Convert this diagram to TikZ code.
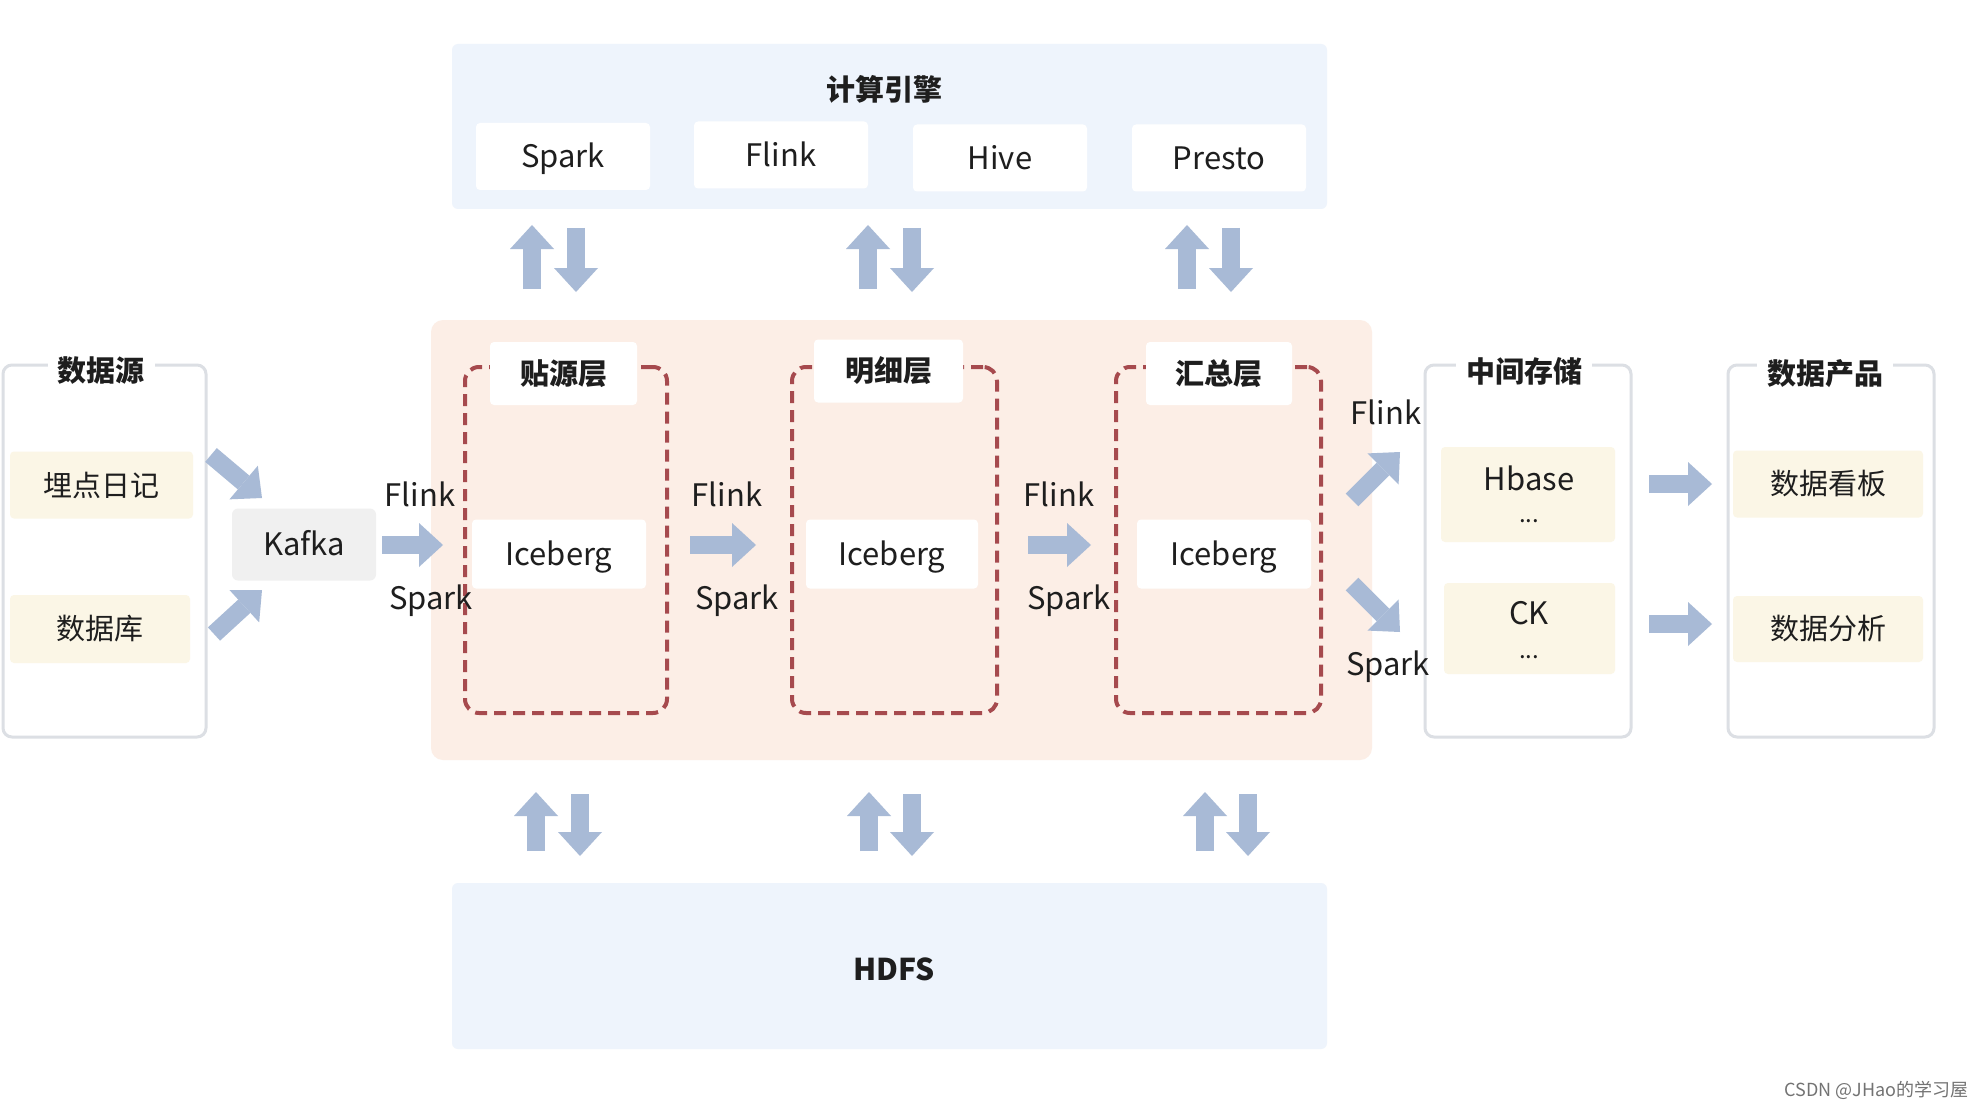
\documentclass[tikz,border=0pt]{standalone}
\usepackage{fontspec}
\setmainfont{Noto Sans CJK SC}
\usetikzlibrary{arrows.meta}
\definecolor{panelblue}{HTML}{EEF4FC}
\definecolor{peach}{HTML}{FCEEE6}
\definecolor{cream}{HTML}{FBF6E6}
\definecolor{kafkagray}{HTML}{F0F0F0}
\definecolor{arrowc}{HTML}{A8BAD6}
\definecolor{dashred}{HTML}{A64A4E}
\definecolor{panelline}{HTML}{DCDFE4}
\definecolor{txtc}{HTML}{1E1E1E}
\tikzset{
  blk/.style={inner sep=0pt, outer sep=0pt},
  panel/.style={blk, fill=panelblue, rounded corners=6pt},
  peachpanel/.style={blk, fill=peach, rounded corners=12pt},
  sidepanel/.style={blk, draw=panelline, line width=3pt, rounded corners=9pt},
  dashbox/.style={blk, draw=dashred, line width=4pt, dash pattern=on 12pt off 7pt, rounded corners=14pt},
  wbox/.style={blk, fill=white, rounded corners=4pt},
  cbox/.style={blk, fill=cream, rounded corners=4pt},
  gbox/.style={blk, fill=kafkagray, rounded corners=6pt},
  ttl/.style={font=\bfseries\fontsize{29}{33}\selectfont, text=txtc},
  cn/.style={font=\fontsize{29}{33}\selectfont, text=txtc},
  lat/.style={font=\fontsize{31}{35}\selectfont, text=txtc, text height=22.5pt, text depth=0pt},
  dots/.style={font=\fontsize{24}{28}\selectfont, text=txtc, anchor=base},
  barrow/.style={draw=arrowc, line width=18pt, -{Triangle[width=44pt,length=24pt,line width=0pt]}},
}
\begin{document}
\begin{tikzpicture}[x=1pt,y=-1pt]
\useasboundingbox[fill=white] (0,0) rectangle (1986,1110);

% ---------- compute engine panel ----------
\node[panel, minimum width=875pt, minimum height=165pt] (engine) at (889.5,126.5) {};
\node[ttl] (enginetitle) at (884,89) {计算引擎};
\node[wbox, minimum width=174pt, minimum height=67pt, lat] (spark) at (563,156.5) {Spark};
\node[wbox, minimum width=174pt, minimum height=67pt, lat] (flink) at (781,155) {Flink};
\node[wbox, minimum width=174pt, minimum height=67pt, lat] (hive) at (1000,158) {Hive};
\node[wbox, minimum width=174pt, minimum height=67pt, lat] (presto) at (1219,158) {Presto};

% ---------- HDFS panel ----------
\node[panel, minimum width=875pt, minimum height=166pt] (hdfs) at (889.5,966) {};
\node[ttl, font=\bfseries\fontsize{30}{34}\selectfont] (hdfstitle) at (894,969) {HDFS};

% ---------- warehouse panel ----------
\node[peachpanel, minimum width=941pt, minimum height=440pt] (wh) at (901.5,540) {};

\node[dashbox, minimum width=202pt, minimum height=346pt] (ods) at (566,540) {};
\node[dashbox, minimum width=205pt, minimum height=346pt] (dwd) at (894.5,540) {};
\node[dashbox, minimum width=205pt, minimum height=346pt] (dws) at (1218.5,540) {};

\node[wbox, minimum width=147pt, minimum height=63pt, ttl] (odst) at (563.5,373.5) {贴源层};
\node[wbox, minimum width=149pt, minimum height=63pt, ttl] (dwdt) at (888.5,371) {明细层};
\node[wbox, minimum width=146pt, minimum height=63pt, ttl] (dwst) at (1219,373.5) {汇总层};

\node[wbox, minimum width=174pt, minimum height=69pt, lat] (ice1) at (559,554) {Iceberg};
\node[wbox, minimum width=172pt, minimum height=69pt, lat] (ice2) at (892,554) {Iceberg};
\node[wbox, minimum width=174pt, minimum height=69pt, lat] (ice3) at (1224,554) {Iceberg};

% ---------- data source ----------
\node[sidepanel, minimum width=203pt, minimum height=372pt] (src) at (104.5,551) {};
\node[fill=white, inner xsep=10pt, inner ysep=2pt, ttl] (srct) at (101,371) {数据源};
\node[cbox, minimum width=183pt, minimum height=67pt, cn] (log) at (101.5,485) {埋点日记};
\node[cbox, minimum width=180pt, minimum height=68pt, cn] (db) at (100,629) {数据库};
\node[gbox, minimum width=144pt, minimum height=72pt, lat] (kafka) at (304,544.5) {Kafka};

% ---------- intermediate storage ----------
\node[sidepanel, minimum width=206pt, minimum height=372pt] (mid) at (1528,551) {};
\node[fill=white, inner xsep=10pt, inner ysep=2pt, ttl] (midt) at (1524,371) {中间存储};
\node[cbox, minimum width=174pt, minimum height=95pt] (hbase) at (1528,494.5) {};
\node[lat] (hbaset) at (1529,479) {Hbase};
\node[dots] (hbased) at (1529,522) {...};
\node[cbox, minimum width=171pt, minimum height=91pt] (ck) at (1529.5,628.5) {};
\node[lat] (ckt) at (1529,613) {CK};
\node[dots] (ckd) at (1529,658) {...};

% ---------- data products ----------
\node[sidepanel, minimum width=206pt, minimum height=372pt] (prod) at (1831,551) {};
\node[fill=white, inner xsep=10pt, inner ysep=2pt, ttl] (prodt) at (1825,374) {数据产品};
\node[cbox, minimum width=190pt, minimum height=67pt, cn] (board) at (1828,484) {数据看板};
\node[cbox, minimum width=190pt, minimum height=66pt, cn] (ana) at (1828,629) {数据分析};

% ---------- arrow end points ----------
\coordinate (s1) at (211,455);  \coordinate (e1) at (262,498);
\coordinate (s2) at (214,634);  \coordinate (e2) at (262,590);
\coordinate (h1s) at (382,545); \coordinate (h1e) at (443,545);
\coordinate (h2s) at (690,545); \coordinate (h2e) at (756,545);
\coordinate (h3s) at (1028,545); \coordinate (h3e) at (1091,545);
\coordinate (d1s) at (1352,500); \coordinate (d1e) at (1400,452);
\coordinate (d2s) at (1352,584); \coordinate (d2e) at (1400,632);
\coordinate (r1s) at (1649,484); \coordinate (r1e) at (1712,484);
\coordinate (r2s) at (1649,624); \coordinate (r2e) at (1712,624);

\draw[barrow] (s1) -- (e1);
\draw[barrow] (s2) -- (e2);
\draw[barrow] (h1s) -- (h1e);
\draw[barrow] (h2s) -- (h2e);
\draw[barrow] (h3s) -- (h3e);
\draw[barrow] (d1s) -- (d1e);
\draw[barrow] (d2s) -- (d2e);
\draw[barrow] (r1s) -- (r1e);
\draw[barrow] (r2s) -- (r2e);

% vertical pairs (engine <-> warehouse)
\foreach \u/\d [count=\i] in {532/576, 868/912, 1187/1231}{
  \coordinate (tu\i s) at (\u,289); \coordinate (tu\i e) at (\u,225);
  \coordinate (td\i s) at (\d,228); \coordinate (td\i e) at (\d,292);
  \draw[barrow] (tu\i s) -- (tu\i e);
  \draw[barrow] (td\i s) -- (td\i e);
}
% vertical pairs (warehouse <-> HDFS)
\foreach \u/\d [count=\i] in {536/580, 869/912, 1205/1248}{
  \coordinate (bu\i s) at (\u,851); \coordinate (bu\i e) at (\u,792);
  \coordinate (bd\i s) at (\d,794); \coordinate (bd\i e) at (\d,856);
  \draw[barrow] (bu\i s) -- (bu\i e);
  \draw[barrow] (bd\i s) -- (bd\i e);
}

% ---------- arrow labels ----------
\node[lat] (l1f) at (420,495) {Flink};
\node[lat] (l1s) at (431,598) {Spark};
\node[lat] (l2f) at (727,495) {Flink};
\node[lat] (l2s) at (737,598) {Spark};
\node[lat] (l3f) at (1059,495) {Flink};
\node[lat] (l3s) at (1069,598) {Spark};
\node[lat] (l4f) at (1386,413) {Flink};
\node[lat] (l4s) at (1388,664) {Spark};

% watermark
\node[anchor=east, font=\fontsize{18}{21}\selectfont, text=black!55] (wm) at (1972,1090) {CSDN @JHao的学习屋};
\end{tikzpicture}
\end{document}
